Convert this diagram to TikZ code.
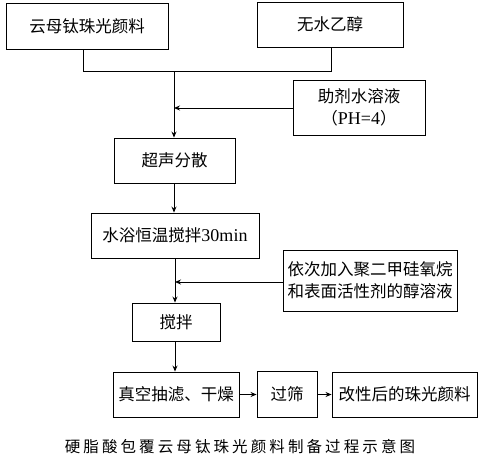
\documentclass[tikz,border=0pt]{standalone}
\usepackage{fontspec}
\setmainfont{Noto Sans CJK SC}
\newfontfamily\latf{Liberation Serif}
\newcommand{\lat}{\latf\fontsize{18}{22}\selectfont}
\usetikzlibrary{arrows.meta}
\newcommand{\cc}[1]{\makebox[18.6pt]{#1}}
\begin{document}
\begin{tikzpicture}[x=1pt,y=-1pt,
  box/.style={draw,line width=0.9pt,inner sep=0pt,align=center,font=\fontsize{16.5}{22}\selectfont},
  arr/.style={line width=0.9pt,-{Stealth[length=6pt,width=5pt]}},
  ln/.style={line width=0.9pt}]
\useasboundingbox (0,0) rectangle (485,461);
\node[box,minimum width=162pt,minimum height=46pt] (b1) at (87,26) {云母钛珠光颜料};
\node[box,minimum width=146pt,minimum height=45pt] (b2) at (330,24.5) {无水乙醇};
\node[box,minimum width=132pt,minimum height=55pt] (aux) at (359,107.5) {助剂水溶液\\（{\lat PH=4}）};
\node[box,minimum width=121pt,minimum height=45pt] (b3) at (174.5,160.5) {超声分散};
\node[box,minimum width=168pt,minimum height=45pt] (b4) at (175,235.5) {水浴恒温搅拌{\lat 30min}};
\node[box,minimum width=174pt,minimum height=61pt] (b5) at (370,280.5) {依次加入聚二甲硅氧烷\\和表面活性剂的醇溶液};
\node[box,minimum width=88pt,minimum height=38pt] (b6) at (176,322) {搅拌};
\node[box,minimum width=126pt,minimum height=45pt] (b7) at (176,394.5) {真空抽滤、干燥};
\node[box,minimum width=60pt,minimum height=46pt] (b8) at (287,394.5) {过筛};
\node[box,minimum width=145pt,minimum height=45pt] (b9) at (404.5,394.5) {改性后的珠光颜料};
\node[inner sep=0pt,font=\fontsize{15.5}{18}\selectfont] (cap) at (240,447) {\cc{硬}\cc{脂}\cc{酸}\cc{包}\cc{覆}\cc{云}\cc{母}\cc{钛}\cc{珠}\cc{光}\cc{颜}\cc{料}\cc{制}\cc{备}\cc{过}\cc{程}\cc{示}\cc{意}\cc{图}};
\coordinate (jl) at (83,71);
\coordinate (jr) at (331,71);
\coordinate (jm) at (174,71);
\coordinate (m1) at (174,108);
\coordinate (m2) at (175,282);
\draw[ln] (b1.south -| jl) -- (jl) -- (jr) -- (b2.south -| jr);
\draw[arr] (jm) -- (b3.north -| jm);
\draw[arr] (aux.west |- m1) -- (m1);
\draw[arr] (b3.south -| jm) -- (b4.north -| jm);
\draw[arr] (b4.south -| m2) -- (b6.north -| m2);
\draw[arr] (b5.west |- m2) -- (m2);
\draw[arr] (b6.south -| m2) -- (b7.north -| m2);
\draw[arr] (b7.east) -- (b8.west);
\draw[arr] (b8.east) -- (b9.west);
\end{tikzpicture}
\end{document}
